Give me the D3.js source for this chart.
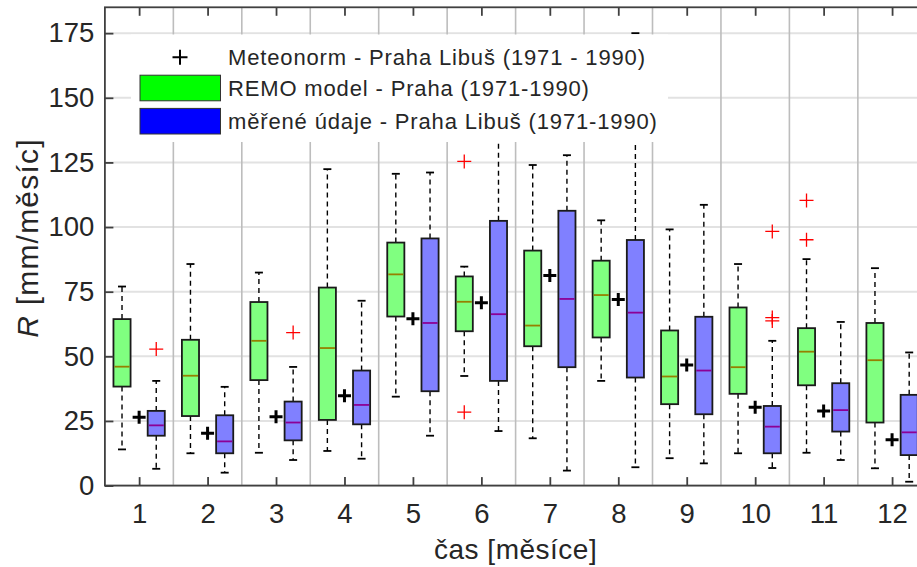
<!DOCTYPE html>
<html>
<head>
<meta charset="utf-8">
<script src="https://cdn.jsdelivr.net/npm/d3@7"></script>
<style>
  html, body { margin: 0; padding: 0; background: #fff; overflow: hidden; }
  svg { display: block; }
  text { font-family: "Liberation Sans", Arial, Helvetica, sans-serif; fill: #262626; }
</style>
</head>
<body>
<svg id="chart" width="917" height="567"></svg>
<script>
// Monthly precipitation R [mm/month], Praha, 1971-1990
const months = [1, 2, 3, 4, 5, 6, 7, 8, 9, 10, 11, 12];
const yTicks = [0, 25, 50, 75, 100, 125, 150, 175];

// Box statistics per month: [lower whisker, Q1, median, Q3, upper whisker]
const remoStats = [
  [14.0, 38.3, 46.0, 64.4, 77.0],
  [12.5, 26.9, 42.5, 56.4, 85.7],
  [12.7, 40.8, 56.0, 71.0, 82.4],
  [13.4, 25.4, 53.2, 76.6, 122.4],
  [34.4, 65.4, 81.7, 94.0, 120.6],
  [42.4, 59.7, 71.1, 80.9, 84.7],
  [18.3, 53.9, 61.9, 90.9, 124.0],
  [40.5, 57.3, 73.7, 87.0, 102.6],
  [10.6, 31.5, 42.2, 60.0, 99.1],
  [12.5, 35.5, 45.8, 68.9, 85.7],
  [12.7, 38.8, 51.8, 60.9, 87.6],
  [6.7, 24.4, 48.5, 62.9, 84.1]
];
const measuredStats = [
  [6.5, 19.3, 23.3, 28.9, 40.5],
  [5.0, 12.5, 17.1, 27.2, 38.2],
  [9.9, 17.5, 24.4, 32.5, 45.9],
  [10.4, 23.7, 31.2, 44.5, 71.5],
  [19.3, 36.5, 62.9, 95.6, 121.1],
  [21.1, 40.5, 66.3, 102.4, 150.0],
  [5.8, 45.8, 72.2, 106.3, 127.8],
  [7.1, 41.8, 66.9, 95.0, 175.0],
  [8.6, 27.6, 44.5, 65.3, 108.6],
  [6.8, 12.5, 22.8, 30.8, 56.0],
  [9.9, 20.9, 29.2, 39.6, 63.3],
  [1.5, 11.8, 20.6, 35.1, 51.5]
];

// Outliers as [month, value]
const remoOutliers = [[6, 125.4], [6, 28.4], [11, 110.3], [11, 95.1]];
const measuredOutliers = [[1, 52.8], [3, 59.2], [10, 98.3], [10, 65.0], [10, 63.7]];

// Meteonorm monthly normals
const meteonorm = [26.4, 20.2, 26.6, 34.8, 64.5, 70.7, 81.3, 72.0, 46.6, 30.3, 28.9, 17.7];

const legendLabels = [
  "Meteonorm - Praha Libuš (1971 - 1990)",
  "REMO model - Praha (1971-1990)",
  "měřené údaje - Praha Libuš (1971-1990)"
];

const svg = d3.select("#chart");

const x = d3.scaleLinear().domain([0.5, 12.5]).range([104.9, 926.3]);
const y = d3.scaleLinear().domain([0, 185]).range([485.6, 7.3]);

const boxOffset = 0.25;   // month units from the month centre
const boxHalf = 0.125;    // half box width, month units

// horizontal grid
svg.append("g").selectAll("line").data(yTicks).join("line")
  .attr("x1", x(0.5)).attr("x2", x(12.5))
  .attr("y1", d => y(d)).attr("y2", d => y(d))
  .attr("stroke", "#e2e2e2").attr("stroke-width", 2);

// month separators
svg.append("g").selectAll("line").data(months.slice(1)).join("line")
  .attr("x1", d => x(d - 0.5)).attr("x2", d => x(d - 0.5))
  .attr("y1", y(185)).attr("y2", y(0))
  .attr("stroke", "#bdbdbd").attr("stroke-width", 1.6);

function plusPath(cx, cy, h) {
  return `M${cx - h},${cy}H${cx + h}M${cx},${cy - h}V${cy + h}`;
}

function drawBoxes(stats, outliers, offset, fill, medianColor) {
  const g = svg.append("g");
  const capHalf = 4;
  stats.forEach((s, i) => {
    const m = months[i];
    const cx = x(m + offset);
    const [lo, q1, med, q3, hi] = s;
    // whiskers
    g.append("line").attr("x1", cx).attr("x2", cx).attr("y1", y(q3)).attr("y2", y(hi))
      .attr("stroke", "#000").attr("stroke-width", 1.4).attr("stroke-dasharray", "5,4");
    g.append("line").attr("x1", cx).attr("x2", cx).attr("y1", y(q1)).attr("y2", y(lo))
      .attr("stroke", "#000").attr("stroke-width", 1.4).attr("stroke-dasharray", "5,4");
    [lo, hi].forEach(v => {
      g.append("line").attr("x1", cx - capHalf).attr("x2", cx + capHalf)
        .attr("y1", y(v)).attr("y2", y(v))
        .attr("stroke", "#000").attr("stroke-width", 1.8);
    });
    // box
    const x0 = x(m + offset - boxHalf), x1 = x(m + offset + boxHalf);
    g.append("rect").attr("x", x0).attr("y", y(q3))
      .attr("width", x1 - x0).attr("height", y(q1) - y(q3))
      .attr("fill", fill).attr("stroke", "#1a1a1a").attr("stroke-width", 1.8);
    // median
    g.append("line").attr("x1", x0 + 1).attr("x2", x1 - 1)
      .attr("y1", y(med)).attr("y2", y(med))
      .attr("stroke", medianColor).attr("stroke-width", 1.8);
  });
  g.selectAll("path.outlier").data(outliers).join("path")
    .attr("class", "outlier")
    .attr("d", d => plusPath(x(d[0] + offset), y(d[1]), 7))
    .attr("fill", "none").attr("stroke", "#ff0000").attr("stroke-width", 1.3);
}

drawBoxes(remoStats, remoOutliers, -boxOffset, "#80ff80", "#958000");
drawBoxes(measuredStats, measuredOutliers, boxOffset, "#8080ff", "#8c0096");

// Meteonorm markers
svg.append("g").selectAll("path").data(meteonorm).join("path")
  .attr("d", (d, i) => plusPath(x(months[i]), y(d), 6.5))
  .attr("fill", "none").attr("stroke", "#000").attr("stroke-width", 3);

// legend
const lg = svg.append("g");
lg.append("rect").attr("x", 131).attr("y", 34.5).attr("width", 537).attr("height", 107.5)
  .attr("fill", "#fff");
const rowY = [57.3, 88.0, 121.2];
lg.append("path").attr("d", plusPath(180, rowY[0], 7.5))
  .attr("fill", "none").attr("stroke", "#000").attr("stroke-width", 2);
[["#00ff00", rowY[1]], ["#0000ff", rowY[2]]].forEach(([c, cy]) => {
  lg.append("rect").attr("x", 140).attr("y", cy - 12.8).attr("width", 80.5).attr("height", 25.6)
    .attr("fill", c).attr("stroke", "#333").attr("stroke-width", 1);
});
lg.selectAll("text").data(legendLabels).join("text")
  .attr("x", 228).attr("y", (d, i) => rowY[i] + 7.8)
  .attr("font-size", 22).attr("letter-spacing", "0.85px")
  .attr("fill", "#000")
  .text(d => d);

// axes
const tickFont = 27.5;
const axB = svg.append("g").attr("transform", `translate(0,${y(0)})`)
  .call(d3.axisBottom(x).tickValues(months).tickFormat(d3.format("d"))
    .tickSizeInner(-8.5).tickSizeOuter(0).tickPadding(17.5));
const axT = svg.append("g").attr("transform", `translate(0,${y(185)})`)
  .call(d3.axisTop(x).tickValues(months).tickFormat("")
    .tickSizeInner(-8.5).tickSizeOuter(0));
const axL = svg.append("g").attr("transform", `translate(${x(0.5)},0)`)
  .call(d3.axisLeft(y).tickValues(yTicks).tickFormat(d3.format("d"))
    .tickSizeInner(-8.5).tickSizeOuter(0).tickPadding(10.5));
const axR = svg.append("g").attr("transform", `translate(${x(12.5)},0)`)
  .call(d3.axisRight(y).tickValues(yTicks).tickFormat("")
    .tickSizeInner(-8.5).tickSizeOuter(0));

[axB, axT, axL, axR].forEach(a => {
  a.select(".domain").remove();
  a.selectAll(".tick line").attr("stroke", "#404040").attr("stroke-width", 1.8);
  a.selectAll(".tick text").attr("font-size", tickFont)
    .attr("font-family", "\"Liberation Sans\", Arial, sans-serif").attr("fill", "#262626");
});

// axes frame
svg.append("rect").attr("x", x(0.5)).attr("y", y(185))
  .attr("width", x(12.5) - x(0.5)).attr("height", y(0) - y(185))
  .attr("fill", "none").attr("stroke", "#404040").attr("stroke-width", 1.8);

// axis titles
svg.append("text").attr("x", (x(0.5) + x(12.5)) / 2).attr("y", 558.5)
  .attr("text-anchor", "middle").attr("font-size", 28).attr("letter-spacing", "0.5px")
  .text("čas [měsíce]");

const yl = svg.append("text")
  .attr("transform", "translate(38,238) rotate(-90)")
  .attr("text-anchor", "middle").attr("font-size", 30).attr("letter-spacing", "1.2px");
yl.append("tspan").attr("font-style", "italic").text("R");
yl.append("tspan").text(" [mm/měsíc]");
</script>
</body>
</html>
